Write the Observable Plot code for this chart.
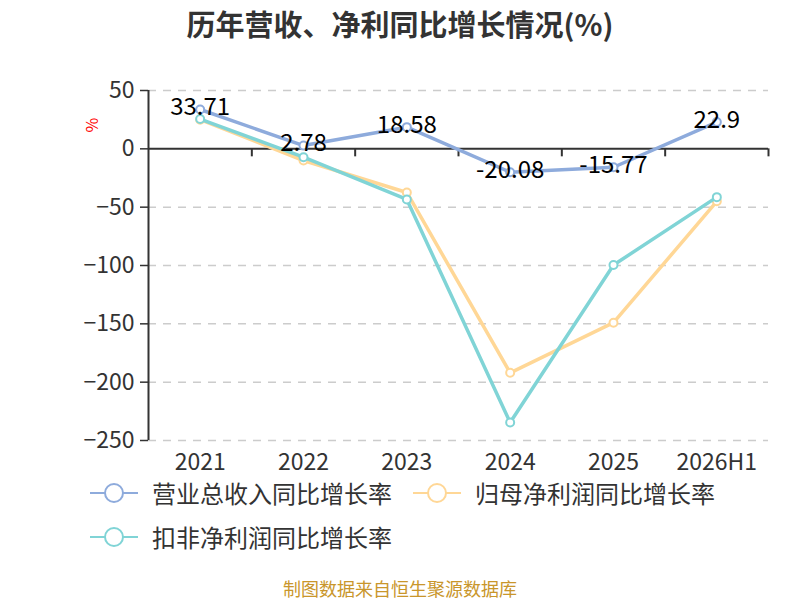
<!DOCTYPE html>
<html><head><meta charset="utf-8">
<script src="https://cdn.jsdelivr.net/npm/d3@7"></script>
<script src="https://cdn.jsdelivr.net/npm/@observablehq/plot@0.6"></script>
<style>
body{margin:0;background:#fff;font-family:"Noto Sans CJK SC","Noto Sans",sans-serif;}
#wrap{position:relative;width:800px;height:600px;overflow:hidden;background:#fff;}
#title{position:absolute;top:0;left:0;width:800px;text-align:center;font-size:29px;font-weight:bold;color:#333;line-height:46px;}
#chart{position:absolute;top:60px;left:0;}
.leg{position:absolute;font-size:24px;color:#333;display:flex;align-items:center;height:26px;line-height:26px;white-space:nowrap;}
.leg svg{margin-right:14px;}
#caption{position:absolute;top:578px;left:0;width:800px;text-align:center;font-size:18px;color:#c9962b;line-height:20px;}
</style></head>
<body>
<div id="wrap">
  <div id="title">历年营收、净利同比增长情况(%)</div>
  <div id="chart"></div>
  <div id="legend"></div>
  <div id="caption">制图数据来自恒生聚源数据库</div>
</div>
<script>
const categories = ["2021","2022","2023","2024","2025","2026H1"];
const seriesNames = ["营业总收入同比增长率","归母净利润同比增长率","扣非净利润同比增长率"];
const revenueGrowth = [33.71, 2.78, 18.58, -20.08, -15.77, 22.9];
const netProfitGrowth = [25, -10, -37.4, -192, -149, -45];
const deductedGrowth = [25.5, -7.2, -43.4, -234.6, -99.6, -41.4];
const yTicks = [50, 0, -50, -100, -150, -200, -250];
const colors = ["#8eabdc","#ffd796","#80d4d6"];

const idx = categories.map((_, i) => i);
const boundaries = categories.map((_, i) => i + 0.5);
const rows = vals => vals.map((v, i) => ({i, v}));
const allSeries = [revenueGrowth, netProfitGrowth, deductedGrowth];

const seriesMarks = allSeries.flatMap((vals, k) => [
  Plot.line(rows(vals), {x: "i", y: "v", stroke: colors[k], strokeWidth: 3.5}),
  Plot.dot(rows(vals), {x: "i", y: "v", r: 4, fill: "#fff", stroke: colors[k], strokeWidth: 2})
]);

const chart = Plot.plot({
  width: 800, height: 420,
  marginTop: 30, marginBottom: 40, marginLeft: 148, marginRight: 32,
  x: {type: "linear", domain: [-0.5, categories.length - 0.5]},
  y: {domain: [-250, 50]},
  style: {fontFamily: '"Noto Sans CJK SC","Noto Sans",sans-serif', background: "#fff", overflow: "visible"},
  marks: [
    Plot.ruleY(yTicks.filter(d => d !== 0), {stroke: "#ccc", strokeWidth: 1.5, strokeDasharray: "8,7"}),
    Plot.axisY({ticks: yTicks, tickSize: 8, tickPadding: 6, fontSize: 23, label: null, stroke: "#333", strokeWidth: 1.5, fill: "#333"}),
    Plot.axisX({ticks: idx, tickFormat: i => categories[i], tickSize: 0, tickPadding: 13, label: null, fontSize: 23, fill: "#333"}),
    Plot.ruleX([-0.5], {stroke: "#333", strokeWidth: 2}),
    Plot.ruleY([0], {stroke: "#333", strokeWidth: 2}),
    Plot.ruleX(boundaries, {y1: 0, y2: 0, insetBottom: -8, stroke: "#333", strokeWidth: 2}),
    Plot.text(["%"], {frameAnchor: "top-left", dx: -62, dy: 42, rotate: -90, fill: "red", fontSize: 16}),
    ...seriesMarks,
    Plot.text(rows(revenueGrowth), {x: "i", y: "v", text: d => String(d.v), fontSize: 24, fill: "#000", dy: -2})
  ]
});
document.getElementById("chart").appendChild(chart);

const legendPos = [[90, 480], [413, 480], [90, 524]];
const legend = document.getElementById("legend");
seriesNames.forEach((name, k) => {
  const div = document.createElement("div");
  div.className = "leg";
  div.style.left = legendPos[k][0] + "px";
  div.style.top = legendPos[k][1] + "px";
  div.innerHTML = `<svg width="48" height="24"><line x1="0" y1="12" x2="48" y2="12" stroke="${colors[k]}" stroke-width="2"/><circle cx="24" cy="12" r="9" fill="#fff" stroke="${colors[k]}" stroke-width="2"/></svg><span>${name}</span>`;
  legend.appendChild(div);
});
</script>
</body></html>
